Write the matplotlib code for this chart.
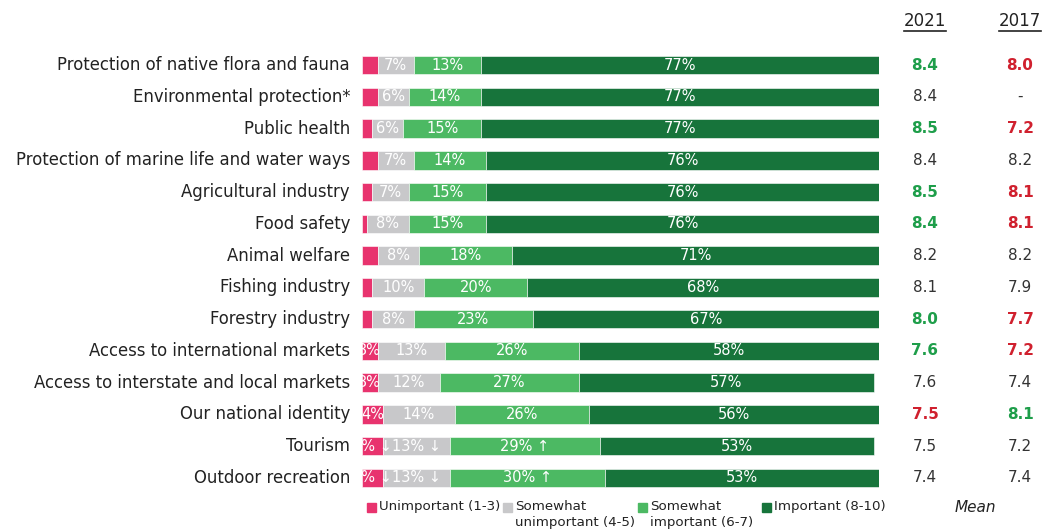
import numpy as np
import matplotlib.pyplot as plt
from matplotlib.patches import Rectangle

# categories (top to bottom)
categories = [
    'Protection of native flora and fauna',
    'Environmental protection*',
    'Public health',
    'Protection of marine life and water ways',
    'Agricultural industry',
    'Food safety',
    'Animal welfare',
    'Fishing industry',
    'Forestry industry',
    'Access to international markets',
    'Access to interstate and local markets',
    'Our national identity',
    'Tourism',
    'Outdoor recreation',
]

# share of respondents (%)
unimportant = [3, 3, 2, 3, 2, 1, 3, 2, 2, 3, 3, 4, 4, 4]
somewhat_unimp = [7, 6, 6, 7, 7, 8, 8, 10, 8, 13, 12, 14, 13, 13]
somewhat_imp = [13, 14, 15, 14, 15, 15, 18, 20, 23, 26, 27, 26, 29, 30]
important = [77, 77, 77, 76, 76, 76, 71, 68, 67, 58, 57, 56, 53, 53]

# which unimportant values get a label
show_unimp = [False] * 9 + [True] * 5

# significance arrows per segment
arrow_unimp = [''] * 12 + [' \u2193', ' \u2193']
arrow_sunimp = [''] * 12 + [' \u2193', ' \u2193']
arrow_simp = [''] * 12 + [' \u2191', ' \u2191']

# mean scores
mean_2021 = ['8.4', '8.4', '8.5', '8.4', '8.5', '8.4', '8.2', '8.1', '8.0', '7.6', '7.6', '7.5', '7.5', '7.4']
mean_2017 = ['8.0', '-', '7.2', '8.2', '8.1', '8.1', '8.2', '7.9', '7.7', '7.2', '7.4', '8.1', '7.2', '7.4']
# g = significantly higher, r = significantly lower, k = no difference
sig_2021 = ['g', 'k', 'g', 'k', 'g', 'g', 'k', 'k', 'g', 'g', 'k', 'r', 'k', 'k']
sig_2017 = ['r', 'k', 'r', 'k', 'r', 'r', 'k', 'k', 'r', 'r', 'k', 'g', 'k', 'k']

legend_labels = ['Unimportant (1-3)', 'Somewhat\nunimportant (4-5)',
                 'Somewhat\nimportant (6-7)', 'Important (8-10)']

colors = ['#E8336E', '#C8C8CA', '#4CB963', '#17743B']
txt_colors = {'g': '#1E9E4A', 'r': '#D0202E', 'k': '#333333'}

plt.rcParams['font.family'] = ['DejaVu Sans']

W, H = 1051, 530
fig = plt.figure(figsize=(W / 100, H / 100), dpi=100)

# plot area: bars from x=362 to 879 px, rows 65..478 px
row_h = (478 - 65) / 13
left = 362 / W
right = 879 / W
top = 1 - (65 - row_h / 2) / H
bottom = 1 - (478 + row_h / 2) / H
ax = fig.add_axes([left, bottom, right - left, top - bottom])

y = np.arange(len(categories))
series = [unimportant, somewhat_unimp, somewhat_imp, important]
starts = np.zeros(len(categories))
for k, vals in enumerate(series):
    vals = np.array(vals, dtype=float)
    ax.barh(y, vals, left=starts, height=0.58, color=colors[k],
            edgecolor='white', linewidth=0.4)
    for i in range(len(categories)):
        cx = starts[i] + vals[i] / 2
        if k == 0:
            if not show_unimp[i]:
                continue
            lab = f'{unimportant[i]}%{arrow_unimp[i]}'
        elif k == 1:
            lab = f'{somewhat_unimp[i]}%{arrow_sunimp[i]}'
        elif k == 2:
            lab = f'{somewhat_imp[i]}%{arrow_simp[i]}'
        else:
            lab = f'{important[i]}%'
        t = ax.text(cx, y[i], lab, ha='center', va='center', color='white',
                    fontsize=10.5)
        t.set_clip_on(True)
    starts += vals

ax.set_xlim(0, 100)
ax.set_ylim(len(categories) - 0.5, -0.5)
ax.axis('off')

# category labels, right aligned just left of the bars
for i, cat in enumerate(categories):
    ax.text(-2.3, y[i], cat, ha='right', va='center', fontsize=11.9,
            color='#222222')

# mean columns
x21, x17 = 925 / W, 1020 / W
fig.text(x21, 1 - 21 / H, '2021', ha='center', va='center', fontsize=12,
         color='#222222')
fig.text(x17, 1 - 21 / H, '2017', ha='center', va='center', fontsize=12,
         color='#222222')
for xc in (x21, x17):
    fig.add_artist(plt.Line2D([xc - 21 / W, xc + 21 / W], [1 - 31 / H] * 2,
                              color='#222222', lw=1.2))
for i in range(len(categories)):
    yc = 1 - (65 + i * row_h) / H
    fig.text(x21, yc, mean_2021[i], ha='center', va='center', fontsize=11,
             color=txt_colors[sig_2021[i]],
             fontweight='bold' if sig_2021[i] != 'k' else 'normal')
    fig.text(x17, yc, mean_2017[i], ha='center', va='center', fontsize=11,
             color=txt_colors[sig_2017[i]],
             fontweight='bold' if sig_2017[i] != 'k' else 'normal')
fig.text(975 / W, 1 - 507 / H, 'Mean', ha='center', va='center',
         fontsize=11, style='italic', color='#222222')

# legend along the bottom
leg_x = [367, 503, 638, 762]
for k, lab in enumerate(legend_labels):
    sq = 9
    fig.add_artist(Rectangle((leg_x[k] / W, 1 - (507 + sq / 2) / H),
                             sq / W, sq / H, color=colors[k],
                             transform=fig.transFigure))
    fig.text((leg_x[k] + sq + 3) / W, 1 - 500 / H, lab, ha='left', va='top',
             fontsize=9.6, color='#222222', linespacing=1.3)

fig.savefig('out.png', dpi=100)
